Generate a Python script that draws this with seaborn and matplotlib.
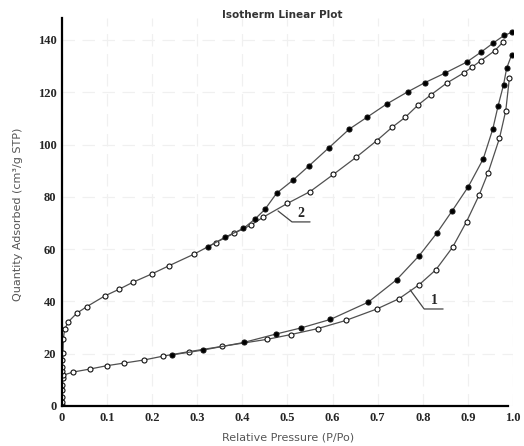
import numpy as np
import pandas as pd
import matplotlib
matplotlib.use("Agg")
import matplotlib.pyplot as plt
import seaborn as sns

# sample 1 (lower loop) - adsorption (open) / desorption (filled)
s1_ads_p = [0.0002, 0.0004, 0.0006, 0.0008, 0.001, 0.0015, 0.003, 0.025, 0.061, 0.099,
            0.137, 0.182, 0.225, 0.282, 0.355, 0.455, 0.507, 0.567, 0.629, 0.698,
            0.747, 0.792, 0.829, 0.866, 0.897, 0.925, 0.945, 0.970, 0.984, 0.992]
s1_ads_q = [0.5, 1.6, 3.6, 6.1, 8.0, 10.6, 11.8, 13.0, 14.1, 15.4,
            16.4, 17.6, 19.1, 20.8, 22.8, 25.5, 27.3, 29.6, 32.7, 37.1,
            41.0, 46.4, 52.1, 60.7, 70.5, 80.7, 89.3, 102.4, 113.0, 125.4]
s1_des_p = [0.997, 0.986, 0.979, 0.967, 0.955, 0.934, 0.901, 0.865, 0.831, 0.792,
            0.742, 0.679, 0.595, 0.531, 0.474, 0.403, 0.313, 0.243]
s1_des_q = [134.3, 129.2, 122.8, 114.8, 105.8, 94.5, 83.9, 74.6, 66.1, 57.5,
            48.3, 39.7, 33.1, 29.9, 27.5, 24.3, 21.4, 19.5]

# sample 2 (upper loop)
s2_ads_p = [0.0003, 0.0006, 0.001, 0.002, 0.003, 0.006, 0.014, 0.033, 0.055, 0.095,
            0.126, 0.157, 0.199, 0.238, 0.293, 0.341, 0.382, 0.419, 0.446, 0.500,
            0.550, 0.602, 0.652, 0.698, 0.732, 0.761, 0.790, 0.818, 0.853, 0.892,
            0.910, 0.929, 0.959, 0.978]
s2_ads_q = [13.3, 15.0, 17.6, 20.2, 25.8, 29.4, 32.2, 35.5, 38.0, 42.1,
            44.6, 47.3, 50.5, 53.7, 58.1, 62.5, 66.1, 69.2, 72.2, 77.5,
            82.0, 88.6, 95.1, 101.5, 106.6, 110.4, 115.2, 119.0, 123.5, 127.5,
            129.7, 132.1, 135.8, 139.2]
s2_des_p = [0.997, 0.980, 0.956, 0.928, 0.897, 0.849, 0.805, 0.767, 0.720, 0.676,
            0.637, 0.592, 0.548, 0.513, 0.476, 0.450, 0.428, 0.402, 0.361, 0.324]
s2_des_q = [142.9, 141.7, 138.8, 135.2, 131.5, 127.3, 123.7, 120.2, 115.5, 110.4,
            105.9, 98.8, 91.9, 86.5, 81.4, 75.2, 71.5, 67.9, 64.5, 60.9]

x_ticks = [0, 0.1, 0.2, 0.3, 0.4, 0.5, 0.6, 0.7, 0.8, 0.9, 1.0]
x_tick_labels = ['0', '0.1', '0.2', '0.3', '0.4', '0.5', '0.6', '0.7', '0.8', '0.9', '1.0']
y_ticks = [0, 20, 40, 60, 80, 100, 120, 140]

sns.set_style("white")

fig = plt.figure(figsize=(5.24, 4.46), dpi=100)
ax = fig.add_axes([0.1183, 0.0897, 0.8607, 0.87])

branches = [
    (s1_ads_p, s1_ads_q, 'white'),
    (s1_des_p, s1_des_q, 'black'),
    (s2_ads_p, s2_ads_q, 'white'),
    (s2_des_p, s2_des_q, 'black'),
]
for p, q, face in branches:
    df = pd.DataFrame({'p': p, 'q': q})
    sns.lineplot(data=df, x='p', y='q', sort=False, estimator=None, ax=ax,
                 color='#505050', linewidth=0.9, marker='o', markersize=3.6,
                 markerfacecolor=face, markeredgecolor='#111111', markeredgewidth=0.8)

# leader lines for the sample labels
ax.plot([0.479, 0.510, 0.550], [74.6, 70.4, 70.4], color='#444444', linewidth=0.9)
ax.text(0.530, 71.0, '2', fontsize=10, fontweight='bold', family='Liberation Serif',
        ha='center', va='bottom')
ax.plot([0.772, 0.803, 0.845], [44.4, 37.1, 37.1], color='#444444', linewidth=0.9)
ax.text(0.825, 37.7, '1', fontsize=10, fontweight='bold', family='Liberation Serif',
        ha='center', va='bottom')

ax.set_xlim(0, 1.0)
ax.set_ylim(0, 148.4)
ax.set_xticks(x_ticks)
ax.set_xticklabels(x_tick_labels)
ax.set_yticks(y_ticks)
ax.tick_params(length=0, pad=4)
for lab in ax.get_xticklabels() + ax.get_yticklabels():
    lab.set_family('Liberation Serif')
    lab.set_fontweight('bold')
    lab.set_fontsize(9)

ax.grid(True, color='#f0f0f0', linestyle=(0, (10, 6)), linewidth=0.9)
for side in ['top', 'right']:
    ax.spines[side].set_visible(False)
ax.spines['left'].set_linewidth(1.6)
ax.spines['bottom'].set_linewidth(1.6)
ax.spines['left'].set_color('black')
ax.spines['bottom'].set_color('black')
ax.spines['bottom'].set_bounds(0, 0.99)

ax.set_xlabel('')
ax.set_ylabel('')
fig.text(0.55, 0.02, 'Relative Pressure (P/Po)', fontsize=8, color='#555555',
         ha='center', va='center')
fig.text(0.035, 0.52, 'Quantity Adsorbed (cm³/g STP)', fontsize=8, color='#555555',
         ha='center', va='center', rotation=90)
fig.text(0.538, 0.966, 'Isotherm Linear Plot', fontsize=7.5, fontweight='bold',
         color='#333333', ha='center', va='center')

fig.savefig('out.png', dpi=100)
